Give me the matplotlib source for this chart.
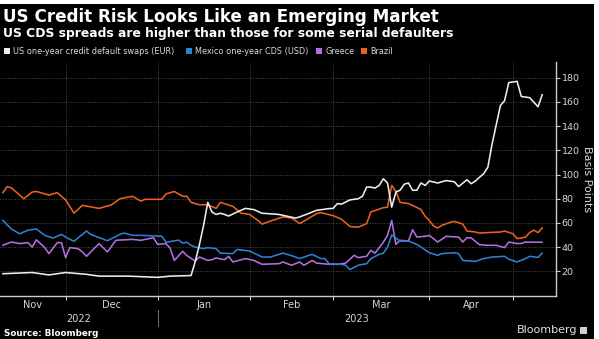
import numpy as np
import matplotlib
matplotlib.use("Agg")
import matplotlib.pyplot as plt
import matplotlib.transforms as mtransforms
from matplotlib.patches import Rectangle

# US one-year CDS (EUR), basis points
us_dates = ["2022-11-10", "2022-11-21", "2022-11-25", "2022-12-01", "2022-12-08", "2022-12-13",
            "2022-12-22", "2023-01-02", "2023-01-05", "2023-01-12", "2023-01-13", "2023-01-16",
            "2023-01-17", "2023-01-18", "2023-01-19", "2023-01-20", "2023-01-23", "2023-01-24",
            "2023-01-25", "2023-01-27", "2023-01-31", "2023-02-02", "2023-02-06", "2023-02-10",
            "2023-02-16", "2023-02-17", "2023-02-21", "2023-02-23", "2023-02-28", "2023-03-01",
            "2023-03-02", "2023-03-03", "2023-03-07", "2023-03-09", "2023-03-10", "2023-03-13",
            "2023-03-14", "2023-03-15", "2023-03-16", "2023-03-17", "2023-03-20", "2023-03-21",
            "2023-03-22", "2023-03-23", "2023-03-24", "2023-03-27", "2023-03-28", "2023-03-29",
            "2023-03-30", "2023-03-31", "2023-04-03", "2023-04-05", "2023-04-07", "2023-04-11",
            "2023-04-12", "2023-04-14", "2023-04-17", "2023-04-18", "2023-04-20", "2023-04-21",
            "2023-04-24", "2023-04-25", "2023-04-26", "2023-04-27", "2023-04-28", "2023-05-01",
            "2023-05-02", "2023-05-03", "2023-05-05", "2023-05-09", "2023-05-10"]
us_vals = [18, 19, 17, 19, 17.5, 16,
           16, 15, 16, 16.5, 28, 42,
           58, 77, 69, 67, 68, 67,
           65.7, 69, 72, 71, 68, 67,
           64, 65, 67.6, 70.4, 71.8, 72,
           76, 75.5, 79, 80, 82, 89.6,
           89.6, 88.8, 91, 96.5, 93, 73,
           85.5, 87, 92, 93, 87, 87,
           93, 91, 94.6, 93, 95, 94,
           90, 95.7, 92.4, 94.6, 100.7, 106,
           125, 141, 157, 161, 176, 176.5,
           177, 164.5, 163.5, 156, 166]

# Mexico one-year CDS (USD)
mx_dates = ["2022-11-10", "2022-11-14", "2022-11-16", "2022-11-18", "2022-11-22", "2022-11-24",
            "2022-11-28", "2022-11-30", "2022-12-01", "2022-12-05", "2022-12-08", "2022-12-09",
            "2022-12-15", "2022-12-20", "2022-12-21", "2022-12-23", "2022-12-27", "2023-01-03",
            "2023-01-04", "2023-01-09", "2023-01-10", "2023-01-11", "2023-01-12", "2023-01-13",
            "2023-01-17", "2023-01-18", "2023-01-20", "2023-01-23", "2023-01-26", "2023-01-27",
            "2023-02-01", "2023-02-06", "2023-02-08", "2023-02-13", "2023-02-15", "2023-02-17",
            "2023-02-21", "2023-02-22", "2023-02-24", "2023-02-27", "2023-02-28", "2023-03-03",
            "2023-03-06", "2023-03-07", "2023-03-09", "2023-03-13", "2023-03-14", "2023-03-16",
            "2023-03-17", "2023-03-20", "2023-03-21", "2023-03-23", "2023-03-27", "2023-03-29",
            "2023-03-30", "2023-04-03", "2023-04-05", "2023-04-06", "2023-04-11", "2023-04-12",
            "2023-04-13", "2023-04-18", "2023-04-20", "2023-04-24", "2023-04-27", "2023-04-28",
            "2023-05-02", "2023-05-04", "2023-05-05", "2023-05-09", "2023-05-10"]
mx_vals = [62, 55, 51, 54, 55, 49.7,
           47.5, 50.5, 48.3, 44.8, 53.3, 50.5,
           45.3, 50.5, 51.6, 49.7, 49.7, 49,
           44, 45.8, 43.4, 44, 41.5, 40,
           38.7, 39.6, 38.7, 35, 34.6, 38,
           36.8, 31.8, 31.8, 35, 33, 30.5,
           33, 34, 30.5, 30.5, 26.3, 25.8,
           25, 21.4, 25, 26.3, 30.5, 34,
           35, 40, 50, 45, 45, 42.3,
           40, 35.4, 33.2, 34.6, 35.4, 34.6,
           29, 28.2, 30.5, 31.8, 32.4, 30,
           27.7, 30.5, 32.4, 31.5, 35]

# Greece
gr_dates = ["2022-11-10", "2022-11-14", "2022-11-16", "2022-11-18", "2022-11-21", "2022-11-22",
            "2022-11-24", "2022-11-25", "2022-11-29", "2022-11-30", "2022-12-01", "2022-12-02",
            "2022-12-06", "2022-12-07", "2022-12-08", "2022-12-09", "2022-12-13", "2022-12-15",
            "2022-12-19", "2022-12-23", "2022-12-27", "2022-12-30", "2023-01-02", "2023-01-04",
            "2023-01-05", "2023-01-06", "2023-01-10", "2023-01-11", "2023-01-13", "2023-01-16",
            "2023-01-18", "2023-01-19", "2023-01-20", "2023-01-24", "2023-01-25", "2023-01-26",
            "2023-01-31", "2023-02-02", "2023-02-06", "2023-02-10", "2023-02-13", "2023-02-15",
            "2023-02-17", "2023-02-20", "2023-02-22", "2023-02-23", "2023-02-28", "2023-03-02",
            "2023-03-06", "2023-03-08", "2023-03-09", "2023-03-13", "2023-03-14", "2023-03-15",
            "2023-03-17", "2023-03-20", "2023-03-21", "2023-03-22", "2023-03-23", "2023-03-27",
            "2023-03-28", "2023-03-29", "2023-03-31", "2023-04-03", "2023-04-05", "2023-04-07",
            "2023-04-12", "2023-04-13", "2023-04-14", "2023-04-17", "2023-04-19", "2023-04-21",
            "2023-04-25", "2023-04-26", "2023-04-27", "2023-04-28", "2023-05-02", "2023-05-03",
            "2023-05-04", "2023-05-10"]
gr_vals = [41.5, 44.2, 42.9, 43.7, 40, 46,
           39.6, 34.6, 43.7, 43.7, 31.3, 39.6,
           38.7, 36, 32.4, 36, 42.9, 36,
           45.6, 46.4, 45.6, 47.8, 42.3, 42.9,
           39, 29, 36.5, 33, 28.5, 31.8,
           29, 29.6, 31, 29.6, 32.4, 27.7,
           30.5, 29, 25.8, 26.3, 27.7, 25,
           27.7, 25, 29, 26.8, 25.8, 25.8,
           26.8, 33.2, 31.3, 32.4, 37.3, 35,
           44, 49.7, 62, 42.3, 45.6, 45,
           54.4, 48.3, 48.9, 49.7, 44.2, 48.9,
           48.3, 44.2, 47.8, 47.6, 42, 41.5,
           41.5, 40.5, 39.6, 44.2, 42.9, 43,
           44.2, 44]

# Brazil
br_dates = ["2022-11-10", "2022-11-11", "2022-11-14", "2022-11-17", "2022-11-21", "2022-11-22",
            "2022-11-25", "2022-11-29", "2022-12-01", "2022-12-05", "2022-12-07", "2022-12-13",
            "2022-12-16", "2022-12-20", "2022-12-23", "2022-12-27", "2022-12-28", "2023-01-03",
            "2023-01-04", "2023-01-06", "2023-01-10", "2023-01-11", "2023-01-12", "2023-01-16",
            "2023-01-18", "2023-01-20", "2023-01-23", "2023-01-26", "2023-01-30", "2023-02-01",
            "2023-02-03", "2023-02-06", "2023-02-08", "2023-02-13", "2023-02-15", "2023-02-17",
            "2023-02-21", "2023-02-23", "2023-02-24", "2023-03-01", "2023-03-03", "2023-03-07",
            "2023-03-09", "2023-03-13", "2023-03-14", "2023-03-17", "2023-03-20", "2023-03-21",
            "2023-03-22", "2023-03-23", "2023-03-27", "2023-03-28", "2023-03-30", "2023-03-31",
            "2023-04-03", "2023-04-04", "2023-04-05", "2023-04-06", "2023-04-10", "2023-04-11",
            "2023-04-13", "2023-04-14", "2023-04-18", "2023-04-19", "2023-04-21", "2023-04-26",
            "2023-04-27", "2023-05-01", "2023-05-02", "2023-05-03", "2023-05-04", "2023-05-05",
            "2023-05-08", "2023-05-09", "2023-05-10"]
br_vals = [85, 90, 89, 80, 85.5, 86,
           83, 85, 79, 68, 74.5, 72,
           75, 80, 82, 78, 79.5, 79.5,
           84, 86, 82, 82, 77, 75,
           75, 72, 77, 73.7, 68, 67,
           62, 59, 61.5, 65, 64, 59.5,
           63.5, 67.6, 68.5, 66, 63, 57,
           56.5, 59.4, 69, 72.6, 73, 91,
           86, 77, 76, 74.5, 71, 65.5,
           62, 57.5, 55.8, 58, 60.5, 61.3,
           59, 53.3, 52.5, 51.6, 52, 52.5,
           53.3, 51, 47, 47.5, 48.3, 52,
           54, 52, 55.8]

series = [
    ("US one-year credit default swaps (EUR)", us_dates, us_vals, "#ededed"),
    ("Mexico one-year CDS (USD)", mx_dates, mx_vals, "#2f7fd4"),
    ("Greece", gr_dates, gr_vals, "#b36ee0"),
    ("Brazil", br_dates, br_vals, "#e8621f"),
]

start = "2022-11-10"
month_starts = ["2022-12-01", "2023-01-02", "2023-02-01", "2023-03-01", "2023-04-03", "2023-05-01"]
month_labels = ["Nov", "Dec", "Jan", "Feb", "Mar", "Apr"]
years = ["2022", "2023"]
yticks = [20, 40, 60, 80, 100, 120, 140, 160, 180]

W, H = 599, 339
fig = plt.figure(figsize=(W / 100, H / 100), dpi=100, facecolor="white")
fig.patches.append(Rectangle((0, 0), 594 / W, 335 / H, transform=fig.transFigure,
                             facecolor="black", edgecolor="none", zorder=-10))

ax = fig.add_axes([0 / W, (H - 295.5) / H, 556 / W, (295.5 - 62) / H])
ax.set_facecolor("black")

# weekday position, Bloomberg style axis
for name, d, v, c in series[::-1]:
    x = np.busday_count(start, d)
    ax.plot(x, v, color=c, lw=1.15, solid_joinstyle="round")

xmin, xmax = -0.7, 132.3
ax.set_xlim(xmin, xmax)
ax.set_ylim(0, 193)

bounds = np.busday_count(start, month_starts)
edges = np.concatenate([[xmin], bounds])
ax.set_xticks(bounds)
ax.set_xticklabels([])
ax.set_xticks((edges[:-1] + edges[1:]) / 2, minor=True)
ax.set_xticklabels(month_labels, minor=True)
ax.tick_params(axis="x", which="major", direction="out", length=3, color="#cccccc")
ax.tick_params(axis="x", which="minor", length=0, pad=3, labelsize=7, labelcolor="#d8d8d8")

ax.yaxis.tick_right()
ax.set_yticks(yticks)
ax.tick_params(axis="y", direction="out", length=3, color="#cccccc", pad=1,
               labelsize=6.8, labelcolor="#d8d8d8")
ax.set_ylabel("Basis Points", rotation=270, color="#d8d8d8", fontsize=8, labelpad=9)
ax.yaxis.set_label_position("right")

ax.grid(True, which="major", color="#4a4a4a", linestyle=(0, (1, 1.5)), lw=0.7)
for s in ["left", "top"]:
    ax.spines[s].set_visible(False)
for s in ["bottom", "right"]:
    ax.spines[s].set_color("#cccccc")
    ax.spines[s].set_linewidth(1)

# year labels under months
trans = mtransforms.blended_transform_factory(ax.transData, ax.transAxes)
jan = bounds[1]
ax.text((xmin + jan) / 2, -0.1, years[0], transform=trans, ha="center", va="center",
        color="#d8d8d8", fontsize=7)
ax.text((jan + xmax) / 2, -0.1, years[1], transform=trans, ha="center", va="center",
        color="#d8d8d8", fontsize=7)
ax.plot([jan, jan], [-0.06, -0.13], transform=trans, color="#777777", lw=0.7, clip_on=False)

# titles
fig.text(3 / W, 1 - 17 / H, "US Credit Risk Looks Like an Emerging Market", color="white",
         fontsize=12.1, fontweight="bold", va="center", ha="left")
fig.text(3 / W, 1 - 33 / H, "US CDS spreads are higher than those for some serial defaulters",
         color="white", fontsize=8.9, fontweight="bold", va="center", ha="left")

# legend row
leg_x = [4, 186, 316, 361]
for (name, d, v, c), lx in zip(series, leg_x):
    fig.patches.append(Rectangle((lx / W, 1 - 54 / H), 6 / W, 6 / H, transform=fig.transFigure,
                                 facecolor=c, edgecolor="none"))
    fig.text((lx + 9) / W, 1 - 51 / H, name, color="#dcdcdc", fontsize=5.9,
             va="center", ha="left")

fig.text(4 / W, 1 - 333 / H, "Source: Bloomberg", color="white", fontsize=6.3,
         fontweight="bold", va="center", ha="left")
fig.text(577 / W, 1 - 330 / H, "Bloomberg", color="#e0e0e0", fontsize=8,
         va="center", ha="right")
fig.patches.append(Rectangle((580 / W, 1 - 334 / H), 7 / W, 7 / H, transform=fig.transFigure,
                             facecolor="#cfcfcf", edgecolor="none"))

fig.savefig("out.png", dpi=100, facecolor=fig.get_facecolor())
